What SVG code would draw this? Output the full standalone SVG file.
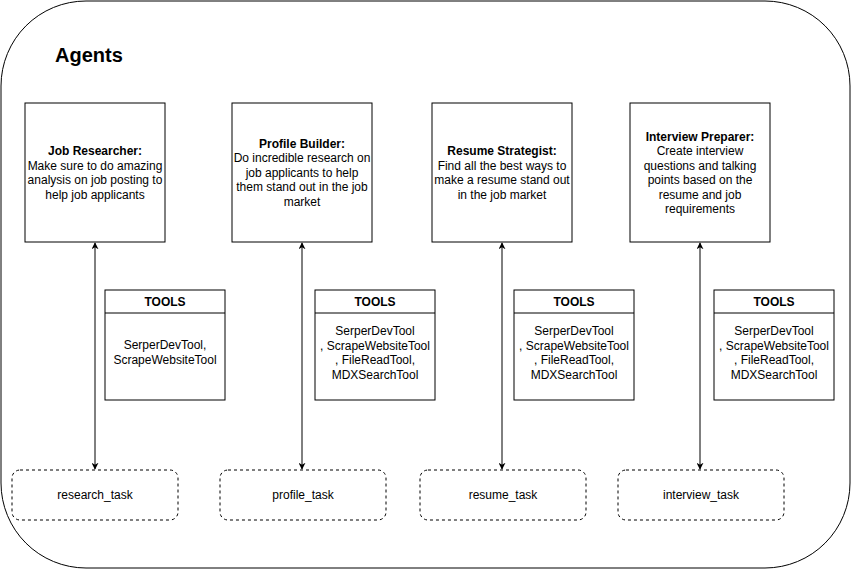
<svg xmlns="http://www.w3.org/2000/svg" width="851" height="571" viewBox="0 0 851 571">
  <defs>
    <marker id="arrow" viewBox="0 0 10 10" refX="9" refY="5" markerWidth="7" markerHeight="7" markerUnits="userSpaceOnUse" orient="auto-start-reverse">
      <path d="M0,0 L10,5 L0,10 L3,5 Z" fill="#000"/>
    </marker>
    <style>
      text { font-family: "Liberation Sans", Arial, Helvetica, sans-serif; fill: #000; }
      .box { fill: #fff; stroke: #000; stroke-width: 1; }
      .task { fill: #fff; stroke: #000; stroke-width: 1; stroke-dasharray: 3 3; }
      .t { font-size: 12px; text-anchor: middle; }
      .b { font-weight: bold; }
      .link { stroke: #000; stroke-width: 1; fill: none; marker-start: url(#arrow); marker-end: url(#arrow); }
    </style>
  </defs>

  <rect x="1" y="1" width="849" height="567" rx="85" ry="85" fill="#fff" stroke="#000" stroke-width="1"/>
  <text x="55" y="62" font-size="20" font-weight="bold">Agents</text>

  <g id="connectors">
    <line class="link" x1="95" y1="243" x2="95" y2="469"/>
    <line class="link" x1="302" y1="243" x2="302" y2="469"/>
    <line class="link" x1="502" y1="243" x2="502" y2="469"/>
    <line class="link" x1="700" y1="243" x2="700" y2="469"/>
  </g>

  <g id="job-researcher">
    <rect class="box" x="25" y="103" width="140" height="139"/>
    <text class="t" x="95" y="155"><tspan class="b">Job Researcher:</tspan><tspan x="95" dy="14.5">Make sure to do amazing</tspan><tspan x="95" dy="14.5">analysis on job posting to</tspan><tspan x="95" dy="14.5">help job applicants</tspan></text>
  </g>
  <g id="profile-builder">
    <rect class="box" x="232" y="103" width="140" height="139"/>
    <text class="t" x="302" y="147.5"><tspan class="b">Profile Builder:</tspan><tspan x="302" dy="14.5">Do incredible research on</tspan><tspan x="302" dy="14.5">job applicants to help</tspan><tspan x="302" dy="14.5">them stand out in the job</tspan><tspan x="302" dy="14.5">market</tspan></text>
  </g>
  <g id="resume-strategist">
    <rect class="box" x="432" y="103" width="140" height="139"/>
    <text class="t" x="502" y="155"><tspan class="b">Resume Strategist:</tspan><tspan x="502" dy="14.5">Find all the best ways to</tspan><tspan x="502" dy="14.5">make a resume stand out</tspan><tspan x="502" dy="14.5">in the job market</tspan></text>
  </g>
  <g id="interview-preparer">
    <rect class="box" x="630" y="103" width="140" height="139"/>
    <text class="t" x="700" y="140.5"><tspan class="b">Interview Preparer:</tspan><tspan x="700" dy="14.5">Create interview</tspan><tspan x="700" dy="14.5">questions and talking</tspan><tspan x="700" dy="14.5">points based on the</tspan><tspan x="700" dy="14.5">resume and job</tspan><tspan x="700" dy="14.5">requirements</tspan></text>
  </g>

  <g id="tools-1">
    <rect class="box" x="105" y="290" width="120" height="110"/>
    <line x1="105" y1="313" x2="225" y2="313" stroke="#000"/>
    <text class="t b" x="165" y="306">TOOLS</text>
    <text class="t" x="165" y="349">SerperDevTool,<tspan x="165" dy="14.5">ScrapeWebsiteTool</tspan></text>
  </g>
  <g id="tools-2">
    <rect class="box" x="315" y="290" width="120" height="110"/>
    <line x1="315" y1="313" x2="435" y2="313" stroke="#000"/>
    <text class="t b" x="375" y="306">TOOLS</text>
    <text class="t" x="375" y="335">SerperDevTool<tspan x="375" dy="14.5">, ScrapeWebsiteTool</tspan><tspan x="375" dy="14.5">, FileReadTool,</tspan><tspan x="375" dy="14.5">MDXSearchTool</tspan></text>
  </g>
  <g id="tools-3">
    <rect class="box" x="514" y="290" width="120" height="110"/>
    <line x1="514" y1="313" x2="634" y2="313" stroke="#000"/>
    <text class="t b" x="574" y="306">TOOLS</text>
    <text class="t" x="574" y="335">SerperDevTool<tspan x="574" dy="14.5">, ScrapeWebsiteTool</tspan><tspan x="574" dy="14.5">, FileReadTool,</tspan><tspan x="574" dy="14.5">MDXSearchTool</tspan></text>
  </g>
  <g id="tools-4">
    <rect class="box" x="714" y="290" width="120" height="110"/>
    <line x1="714" y1="313" x2="834" y2="313" stroke="#000"/>
    <text class="t b" x="774" y="306">TOOLS</text>
    <text class="t" x="774" y="335">SerperDevTool<tspan x="774" dy="14.5">, ScrapeWebsiteTool</tspan><tspan x="774" dy="14.5">, FileReadTool,</tspan><tspan x="774" dy="14.5">MDXSearchTool</tspan></text>
  </g>

  <g id="research-task">
    <rect class="task" x="12" y="470" width="166" height="50" rx="8"/>
    <text class="t" x="95" y="499">research_task</text>
  </g>
  <g id="profile-task">
    <rect class="task" x="220" y="470" width="166" height="50" rx="8"/>
    <text class="t" x="303" y="499">profile_task</text>
  </g>
  <g id="resume-task">
    <rect class="task" x="420" y="470" width="166" height="50" rx="8"/>
    <text class="t" x="503" y="499">resume_task</text>
  </g>
  <g id="interview-task">
    <rect class="task" x="618" y="470" width="166" height="50" rx="8"/>
    <text class="t" x="701" y="499">interview_task</text>
  </g>
</svg>
